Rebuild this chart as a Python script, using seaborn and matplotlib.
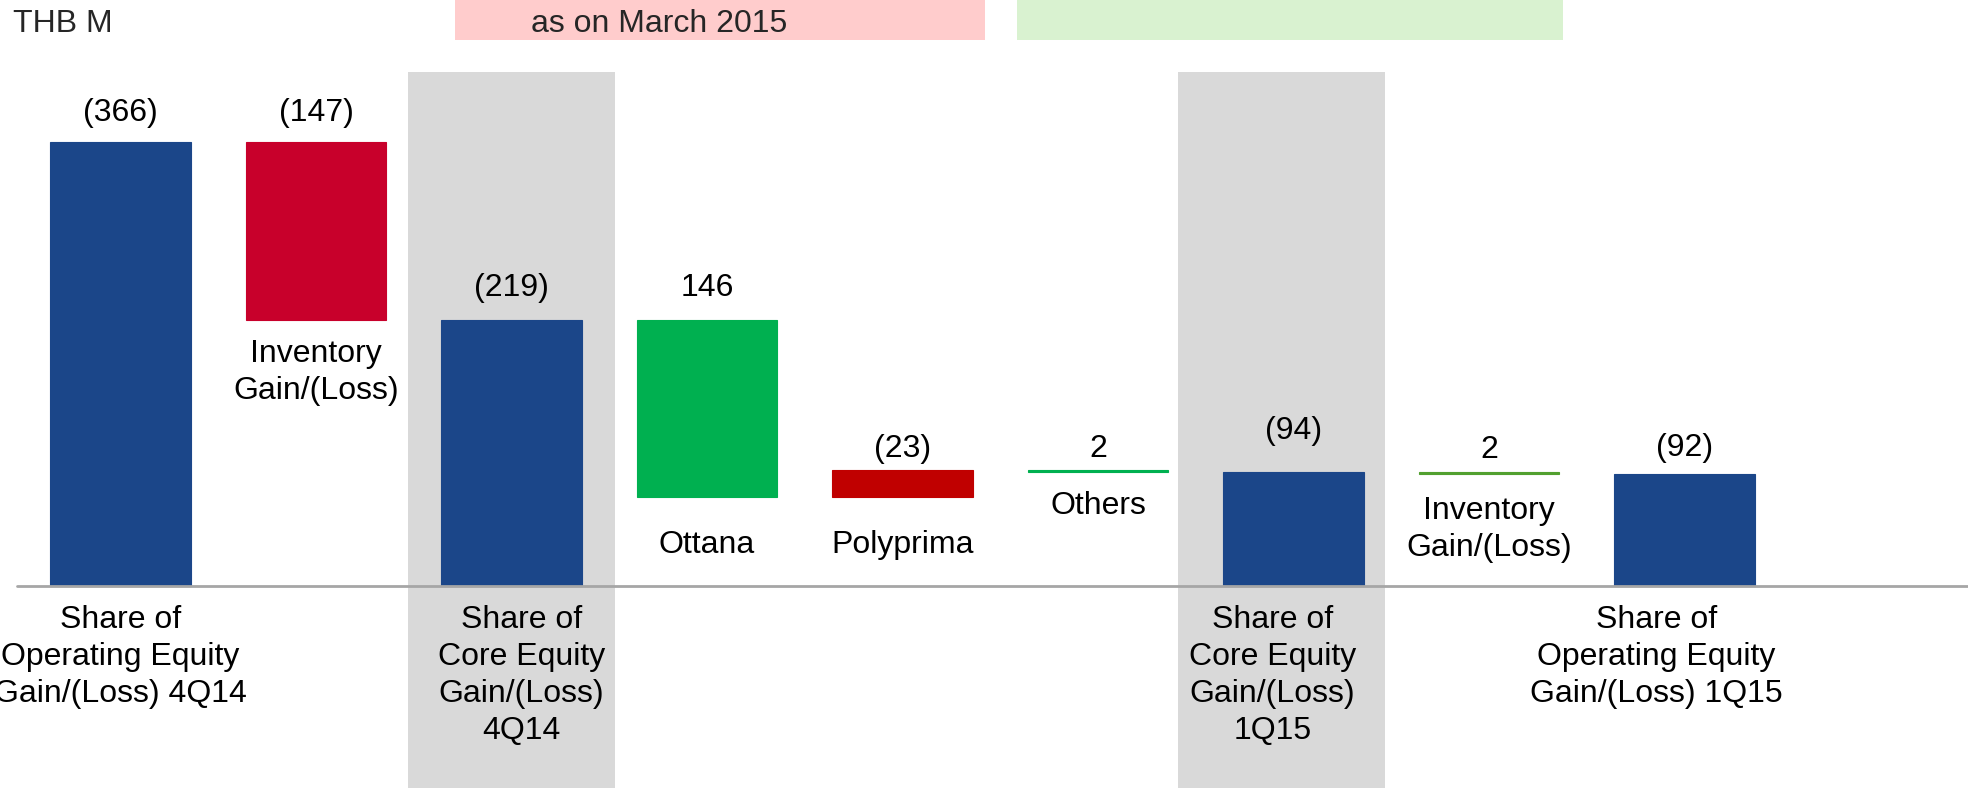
import seaborn as sns
import numpy as np
import matplotlib.pyplot as plt
from matplotlib.patches import Rectangle

# bridge items, left to right
labels = ['Share of\nOperating Equity\nGain/(Loss) 4Q14',
          'Inventory\nGain/(Loss)',
          'Share of\nCore Equity\nGain/(Loss)\n4Q14',
          'Ottana',
          'Polyprima',
          'Others',
          'Share of\nCore Equity\nGain/(Loss)\n1Q15',
          'Inventory\nGain/(Loss)',
          'Share of\nOperating Equity\nGain/(Loss) 1Q15']
values = [-366, -147, -219, 146, -23, 2, -94, 2, -92]
is_total = [True, False, True, False, False, False, True, False, True]
# 4Q14 side strips the inventory effect out, 1Q15 side adds it back
step_sign = [0, -1, 0, 1, 1, 1, 0, 1, 0]
bar_colors = ['#1B4689', '#C8002B', '#1B4689', '#00B050', '#C00000',
              '#00B050', '#1B4689', '#52A02F', '#1B4689']
highlighted = [2, 6]  # core equity columns get the grey band

# waterfall start / end of each bar
starts, ends = [], []
level = 0
for v, tot, s in zip(values, is_total, step_sign):
    if tot:
        starts.append(0)
        level = v
        ends.append(v)
    else:
        starts.append(level)
        level = level + s * v
        ends.append(level)
starts = np.array(starts, dtype=float)
ends = np.array(ends, dtype=float)

# hand placement tweaks (pixels) to follow the slide layout
value_dy = {0: -3, 1: -3, 4: -11, 5: -11, 6: 9, 7: -10, 8: -6}
name_dy = {3: -14, 4: -14, 7: -3}
name_dx = {2: 10, 6: -21, 8: -28}
band_shift = {6: -0.06}

sns.set_theme(style='white')
plt.rcParams['font.family'] = ['Liberation Sans', 'DejaVu Sans']
FS = 23

fig = plt.figure(figsize=(19.68, 7.88), dpi=100)
ax = fig.add_axes([0, 0, 1, 1])

pos = list(range(len(values)))
sns.barplot(x=pos, y=ends - starts, bottom=starts, width=0.72,
            errorbar=None, color='#1B4689', linewidth=0.8, ax=ax, zorder=2)
for patch, c in zip(ax.containers[0], bar_colors):
    patch.set_facecolor(c)
    patch.set_edgecolor(c)

for i in highlighted:
    c = i + band_shift.get(i, 0)
    ax.axvspan(c - 0.53, c + 0.53, ymin=0, ymax=0.909, color='#D9D9D9',
               lw=0, zorder=0)

ax.set_xlim(-0.616, 9.45)
ax.set_ylim(166.5, -483)  # losses plotted upwards
ax.axhline(0, xmin=17 / 1968, color='#A6A6A6', lw=2, zorder=3)
ax.axis('off')

for i, (v, s, e, tot, lab) in enumerate(zip(values, starts, ends, is_total, labels)):
    txt = f'({abs(v)})' if v < 0 else f'{v}'
    ax.annotate(txt, (i, min(s, e)), xytext=(0, 32 + value_dy.get(i, 0)),
                textcoords='offset pixels', ha='center', va='center',
                fontsize=FS, color='black')
    anchor_y = 0 if tot else max(s, e)
    ax.annotate(lab, (i, anchor_y),
                xytext=(name_dx.get(i, 0), -19 + name_dy.get(i, 0)),
                textcoords='offset pixels', ha='center', va='top',
                fontsize=FS, linespacing=1.3, color='black')

# header boxes
fig.patches.append(Rectangle((455 / 1968, 748 / 788), 530 / 1968, 40 / 788,
                             transform=fig.transFigure, facecolor='#FFCCCC',
                             edgecolor='none', zorder=0))
fig.patches.append(Rectangle((1017 / 1968, 748 / 788), 546 / 1968, 40 / 788,
                             transform=fig.transFigure, facecolor='#D9F2D0',
                             edgecolor='none', zorder=0))
fig.text(13 / 1968, 1 - 24 / 788, 'THB M', ha='left', va='center', fontsize=FS)
fig.text(531 / 1968, 1 - 24 / 788, 'as on March 2015', ha='left', va='center',
         fontsize=FS)

fig.savefig('out.png', dpi=100)
